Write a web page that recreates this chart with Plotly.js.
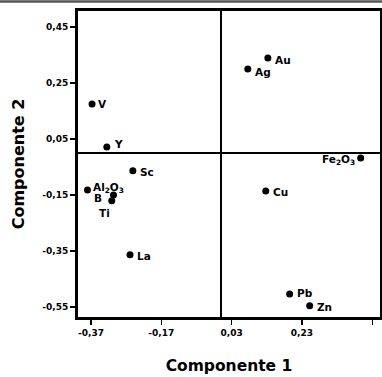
<!DOCTYPE html>
<html>
<head>
<meta charset="utf-8">
<script src="https://cdn.plot.ly/plotly-3.0.1.min.js"></script>
<style>html,body{margin:0;padding:0;background:#fff;}#chart{width:382px;height:377px;}</style>
</head>
<body>
<div id="chart"></div>
<script>
const labels = ["Au", "Ag", "V", "Y", "Sc", "Al<sub>2</sub>O<sub>3</sub>", "B", "Ti", "La", "Fe<sub>2</sub>O<sub>3</sub>", "Cu", "Pb", "Zn"];
const comp1 = [0.133, 0.076, -0.367, -0.325, -0.251, -0.380, -0.306, -0.311, -0.259, 0.397, 0.127, 0.195, 0.252];
const comp2 = [0.339, 0.300, 0.175, 0.021, -0.064, -0.132, -0.150, -0.171, -0.364, -0.018, -0.136, -0.504, -0.546];
const labelSide = ["right", "right", "right", "right", "right", "right", "left", "left", "right", "left", "right", "right", "right"];
const xTickVals = [-0.37, -0.17, 0.03, 0.23, 0.43];
const xTickText = ["-0,37", "-0,17", "0,03", "0,23", "0,43"];
const yTickVals = [0.45, 0.25, 0.05, -0.15, -0.35, -0.55];
const yTickText = ["0,45", "0,25", "0,05", "-0,15", "-0,35", "-0,55"];

// label offsets in pixels (style only)
const lblDx = [6, 6, 5, 6, 6, 5, -11, -1, 6, -5, 6, 6, 6];
const lblDy = [-2, -3, 0, 3, -1, 2, -3, -12, -1, -2, -1, 1, -1];

const font = "DejaVu Sans, Liberation Sans, sans-serif";

const trace = {
  x: comp1, y: comp2, mode: "markers", type: "scatter",
  marker: {color: "#000", size: 7},
  hoverinfo: "none", cliponaxis: false
};

const annotations = labels.map((t, i) => ({
  x: comp1[i], y: comp2[i], xref: "x", yref: "y", text: t, showarrow: false,
  xanchor: labelSide[i] === "right" ? "left" : "right", yanchor: "middle",
  xshift: lblDx[i], yshift: lblDy[i], borderpad: 0,
  font: {family: font, size: 10.5, color: "#000", weight: "bold"}
}));

const layout = {
  width: 382, height: 377,
  margin: {l: 78, r: 2, t: 11, b: 60},
  paper_bgcolor: "#fff", plot_bgcolor: "#fff",
  showlegend: false,
  font: {family: font, color: "#000"},
  xaxis: {
    range: [-0.407, 0.452], tickvals: xTickVals, ticktext: xTickText,
    ticks: "outside", ticklen: 5, tickwidth: 1.5, tickcolor: "#000",
    showgrid: false, zeroline: true, zerolinecolor: "#000", zerolinewidth: 2,
    showline: true, linecolor: "#000", linewidth: 3, mirror: true,
    tickfont: {family: font, size: 9, weight: "bold", color: "#000"},
    title: {text: "Componente 1", font: {family: font, size: 15.5, weight: "bold", color: "#000"}, standoff: 24},
    automargin: false
  },
  yaxis: {
    range: [-0.586, 0.507], tickvals: yTickVals, ticktext: yTickText,
    ticks: "outside", ticklen: 5, tickwidth: 1.5, tickcolor: "#000",
    showgrid: false, zeroline: true, zerolinecolor: "#000", zerolinewidth: 2,
    showline: true, linecolor: "#000", linewidth: 3, mirror: true,
    tickfont: {family: font, size: 9, weight: "bold", color: "#000"},
    title: {text: "Componente 2", font: {family: font, size: 16, weight: "bold", color: "#000"}, standoff: 14},
    automargin: false
  },
  annotations: annotations,
  shapes: [{type: "line", layer: "above", xref: "paper", yref: "paper",
            ysizemode: "pixel", yanchor: 1, y0: 9.5, y1: 9.5,
            x0: -0.26, x1: 1.01, line: {color: "#555", width: 2.5}}]
};

Plotly.newPlot("chart", [trace], layout, {displayModeBar: false, staticPlot: true});
</script>
</body>
</html>
